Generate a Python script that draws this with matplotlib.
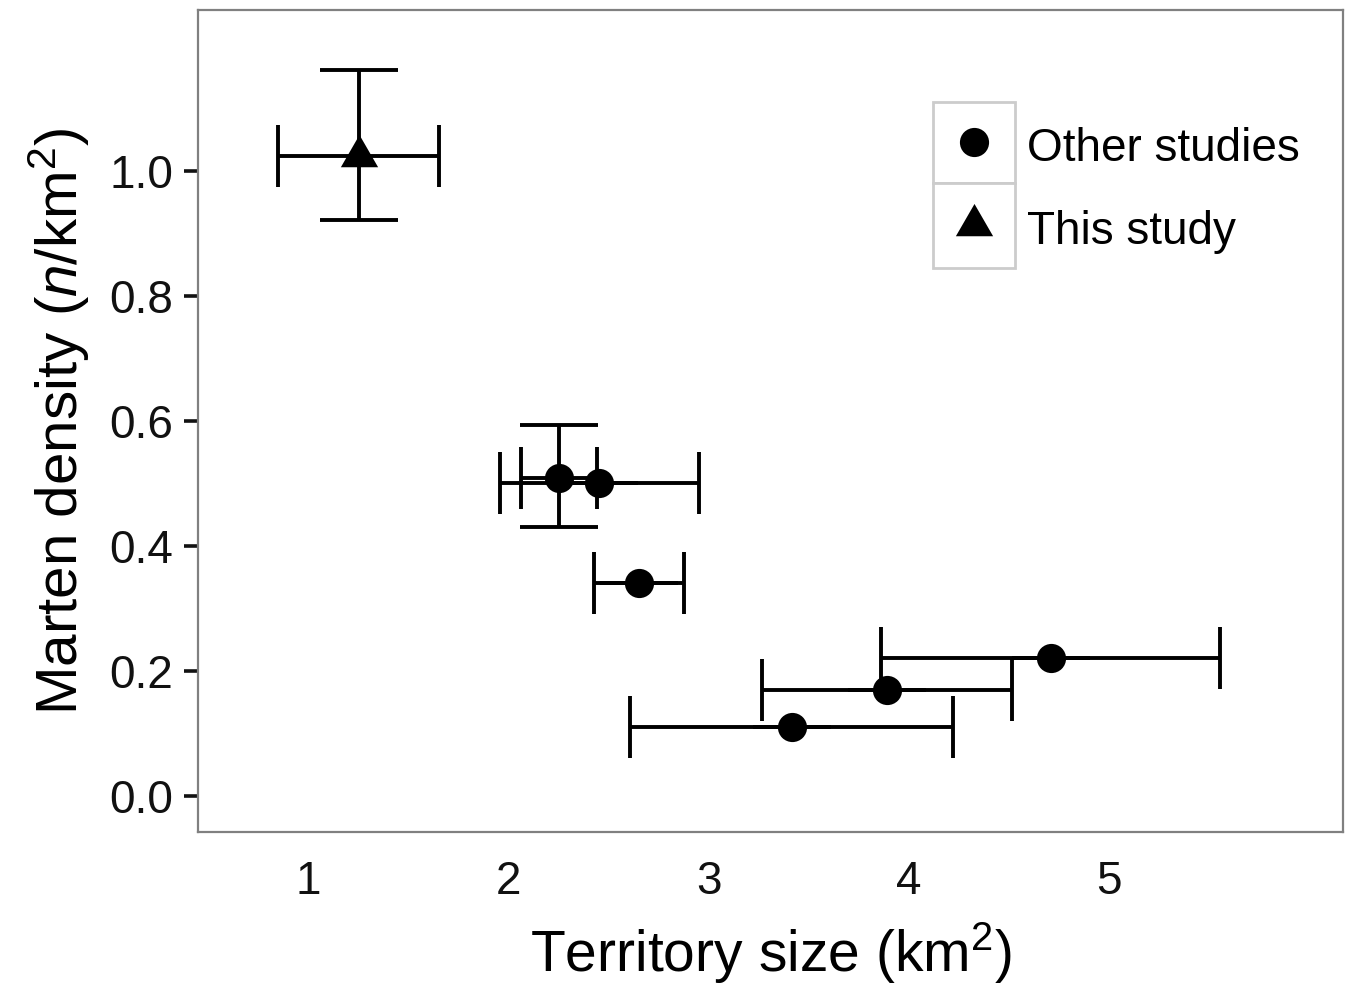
import numpy as np
import matplotlib
matplotlib.use('Agg')
import matplotlib.pyplot as plt
from matplotlib.patches import Rectangle
from matplotlib.lines import Line2D

plt.rcParams['font.family'] = ['Liberation Sans', 'DejaVu Sans']
plt.rcParams['mathtext.fontset'] = 'custom'
plt.rcParams['mathtext.rm'] = 'Liberation Sans'
plt.rcParams['mathtext.it'] = 'Liberation Sans:italic'

# other studies
other_x = [2.253, 2.453, 2.653, 4.713, 3.893, 3.418]
other_y = [0.509, 0.501, 0.341, 0.221, 0.170, 0.110]
other_x_lo = [2.063, 1.958, 2.428, 3.863, 3.268, 2.608]
other_x_hi = [2.443, 2.953, 2.878, 5.558, 4.518, 4.223]
other_y_lo = [0.430, 0.501, 0.341, 0.221, 0.170, 0.110]
other_y_hi = [0.594, 0.501, 0.341, 0.221, 0.170, 0.110]

# this study
this_x = [1.253]
this_y = [1.024]
this_x_lo = [0.848]
this_x_hi = [1.653]
this_y_lo = [0.921]
this_y_hi = [1.162]

x_ticks = [1, 2, 3, 4, 5]
y_ticks = [0.0, 0.2, 0.4, 0.6, 0.8, 1.0]

W, H = 1346, 996
fig = plt.figure(figsize=(W / 100, H / 100), dpi=100)
ax = fig.add_axes([198 / W, (H - 832) / H, (1343 - 198) / W, (832 - 10) / H])

# equilateral triangle, centroid at origin
tri = [(-1, -0.577), (1, -0.577), (0, 1.155), (-1, -0.577)]

lw = 2.8
for xs, ys, xlo, xhi, ylo, yhi, mk, ms in [
        (other_x, other_y, other_x_lo, other_x_hi, other_y_lo, other_y_hi, 'o', 21),
        (this_x, this_y, this_x_lo, this_x_hi, this_y_lo, this_y_hi, tri, 31)]:
    xs = np.array(xs); ys = np.array(ys)
    xerr = [xs - np.array(xlo), np.array(xhi) - xs]
    yerr = [ys - np.array(ylo), np.array(yhi) - ys]
    ax.errorbar(xs, ys, xerr=xerr, fmt='none', ecolor='black', elinewidth=lw,
                capsize=22, capthick=lw, zorder=2)
    ax.errorbar(xs, ys, yerr=yerr, fmt='none', ecolor='black', elinewidth=lw,
                capsize=28, capthick=lw, zorder=2)
    ax.plot(xs, ys, linestyle='none', marker=mk, markersize=ms, color='black',
            markeredgewidth=0, zorder=3)

ax.set_xlim(0.447, 6.172)
ax.set_ylim(-0.0576, 1.2576)
ax.set_xticks(x_ticks)
ax.set_xticklabels([str(t) for t in x_ticks])
ax.set_yticks(y_ticks)
ax.set_yticklabels(['%.1f' % t for t in y_ticks])
ax.tick_params(axis='x', length=0, pad=20, labelsize=33, colors='#111111')
ax.tick_params(axis='y', length=10, width=2.6, pad=8, labelsize=33,
               colors='#111111')
for s in ax.spines.values():
    s.set_color('#808080')
    s.set_linewidth(1.6)

ax.set_xlabel('Territory size (km$^2$)', fontsize=41, labelpad=12)
ax.set_ylabel(r'Marten density ($\mathit{n}$/km$^2$)', fontsize=42, labelpad=12)

# legend drawn by hand
def fx(px):
    return px / W

def fy(py):
    return (H - py) / H

for top, bot in [(102, 183), (183, 268)]:
    fig.add_artist(Rectangle((fx(933), fy(bot)), fx(1015) - fx(933), fy(top) - fy(bot),
                             transform=fig.transFigure, facecolor='white',
                             edgecolor='#cccccc', linewidth=2))
fig.add_artist(Line2D([fx(974)], [fy(142)], marker='o', markersize=21, color='black',
                      markeredgewidth=0, transform=fig.transFigure))
fig.add_artist(Line2D([fx(974)], [fy(225)], marker=tri, markersize=31, color='black',
                      markeredgewidth=0, transform=fig.transFigure))
fig.text(fx(1027), fy(161), 'Other studies', fontsize=33, va='baseline', ha='left')
fig.text(fx(1027), fy(244), 'This study', fontsize=33, va='baseline', ha='left')

fig.savefig('out.png', dpi=100)
